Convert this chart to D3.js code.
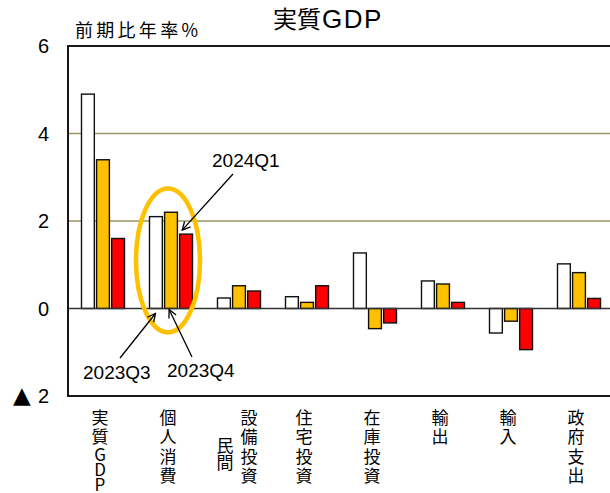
<!DOCTYPE html>
<html>
<head>
<meta charset="utf-8">
<script src="https://cdn.jsdelivr.net/npm/d3@7"></script>
<style>
  body { margin: 0; background: #fff; }
  text { font-family: "Noto Sans CJK JP", sans-serif; fill: #000; }
  .num { font-family: "Liberation Sans", Arial, sans-serif; }
</style>
</head>
<body>
<svg id="chart" width="610" height="493"></svg>
<script>
// data (前期比年率, %)
const categories = ["実質GDP", "個人消費", "民間設備投資", "住宅投資", "在庫投資", "輸出", "輸入", "政府支出"];
const labelColumns = [["実質GDP"], ["個人消費"], ["民間", "設備投資"], ["住宅投資"], ["在庫投資"], ["輸出"], ["輸入"], ["政府支出"]];
const quarters = ["2023Q3", "2023Q4", "2024Q1"];
const q2023Q3 = [4.9, 2.1, 0.24, 0.27, 1.27, 0.63, -0.56, 1.02];
const q2023Q4 = [3.4, 2.2, 0.52, 0.14, -0.46, 0.56, -0.29, 0.82];
const q2024Q1 = [1.6, 1.7, 0.40, 0.52, -0.33, 0.14, -0.94, 0.23];
const yTicks = [6, 4, 2, 0, -2];
const gridTicks = [4, 2];
const colors = ["#ffffff", "#ffc000", "#ff0000"];

const seriesValues = [q2023Q3, q2023Q4, q2024Q1];
const rows = [];
categories.forEach((c, i) => {
  quarters.forEach((q, j) => rows.push({ cat: c, q: q, v: seriesValues[j][i], color: colors[j] }));
});

const svg = d3.select("#chart");
const plotL = 68, plotR = 612, plotT = 46, plotB = 396;

const y = d3.scaleLinear().domain([-2, 6]).range([plotB, plotT]);
const x0 = d3.scaleBand().domain(categories).range([plotL, plotR]);
const x1 = d3.scaleBand().domain(quarters).range([13.5, 56.5]).paddingInner(0.15);

// gridlines
svg.append("g").selectAll("line")
  .data(gridTicks)
  .join("line")
  .attr("x1", plotL).attr("x2", plotR)
  .attr("y1", d => y(d)).attr("y2", d => y(d))
  .attr("stroke", "#9c9660")
  .attr("stroke-width", 1.3);

// bars
svg.append("g").selectAll("rect")
  .data(rows)
  .join("rect")
  .attr("x", d => x0(d.cat) + x1(d.q))
  .attr("width", x1.bandwidth())
  .attr("y", d => y(Math.max(0, d.v)))
  .attr("height", d => Math.abs(y(d.v) - y(0)))
  .attr("fill", d => d.color)
  .attr("stroke", "#111")
  .attr("stroke-width", 1.4);

// zero line
svg.append("line")
  .attr("x1", plotL).attr("x2", plotR)
  .attr("y1", y(0)).attr("y2", y(0))
  .attr("stroke", "#333")
  .attr("stroke-width", 1.6);

// plot frame
svg.append("rect")
  .attr("x", plotL).attr("y", plotT)
  .attr("width", plotR - plotL).attr("height", plotB - plotT)
  .attr("fill", "none")
  .attr("stroke", "#000")
  .attr("stroke-width", 1.8);

// y tick labels (negative shown with ▲)
const yLab = svg.append("g").selectAll("text")
  .data(yTicks)
  .join("text")
  .attr("class", "num")
  .attr("x", 49)
  .attr("y", d => y(d) + 7)
  .attr("text-anchor", "end")
  .style("font-size", "20px");
yLab.filter(d => d < 0).append("tspan")
  .style("font-family", "DejaVu Sans")
  .style("font-size", "23px")
  .text("▲ ");
yLab.append("tspan").text(d => Math.abs(d));

// category labels, one text per column, one tspan per char
labelColumns.forEach((cols, i) => {
  const cx = x0(categories[i]) + x0.bandwidth() / 2 - 2;
  const n = cols.length;
  cols.forEach((word, k) => {
    const colX = n === 1 ? cx : cx + (k === 0 ? -11 : 13);
    const chars = Array.from(word);
    const t = svg.append("text")
      .attr("text-anchor", "middle")
      .style("font-size", "17px");
    let yy = (n > 1 && k === 0) ? 446 : 417.5;
    chars.forEach((ch, m) => {
      const latin = /[A-Za-z]/.test(ch);
      if (m > 0) {
        const prevLatin = /[A-Za-z]/.test(chars[m - 1]);
        yy += latin ? (prevLatin ? 15 : 18) : (n > 1 && k === 0 ? 17 : 19.5);
      }
      t.append("tspan")
        .attr("x", colX)
        .attr("y", yy + 6)
        .text(ch);
    });
  });
});

// title and unit
const title = svg.append("text")
  .attr("x", 273).attr("y", 28);
title.append("tspan").style("font-size", "24px").text("実質");
title.append("tspan")
  .style("font-family", "Liberation Sans, Arial, sans-serif")
  .style("font-size", "26px")
  .style("letter-spacing", "1.5px")
  .attr("dx", 1)
  .text("GDP");

svg.append("text")
  .attr("x", 75).attr("y", 37)
  .style("font-size", "18px")
  .attr("textLength", 123)
  .text("前期比年率%");

// highlight ellipse round 個人消費
const focus = "個人消費";
svg.append("ellipse")
  .attr("cx", x0(focus) + x0.bandwidth() / 2 - 2)
  .attr("cy", y(1.1))
  .attr("rx", 32)
  .attr("ry", 72)
  .attr("fill", "none")
  .attr("stroke", "#ffc000")
  .attr("stroke-width", 4.5);

// arrows + quarter labels
svg.append("defs").append("marker")
  .attr("id", "arrow")
  .attr("viewBox", "0 0 10 10")
  .attr("refX", 9).attr("refY", 5)
  .attr("markerWidth", 10).attr("markerHeight", 10)
  .attr("markerUnits", "userSpaceOnUse")
  .attr("orient", "auto")
  .append("path")
  .attr("d", "M1,1 L9,5 L1,9")
  .attr("fill", "none")
  .attr("stroke", "#000")
  .attr("stroke-width", 1.3);

const focusIdx = categories.indexOf(focus);
const annotations = [
  { q: "2024Q1", tx: 212, ty: 167, fx: 233, fy: 174, tipX: 2.5, tipV: q2024Q1[focusIdx], tipDy: -4 },
  { q: "2023Q3", tx: 83, ty: 379, fx: 120, fy: 358, tipX: 6, tipV: 0, tipDy: 5 },
  { q: "2023Q4", tx: 167, ty: 377, fx: 192, fy: 357, tipX: 4.5, tipV: 0, tipDy: 1 }
];

annotations.forEach(a => {
  const tx = x0(focus) + x1(a.q) + a.tipX;
  const ty = y(a.tipV) + a.tipDy;
  svg.append("line")
    .attr("x1", a.fx).attr("y1", a.fy)
    .attr("x2", tx).attr("y2", ty)
    .attr("stroke", "#000")
    .attr("stroke-width", 1.3)
    .attr("marker-end", "url(#arrow)");
  svg.append("text")
    .attr("class", "num")
    .attr("x", a.tx).attr("y", a.ty)
    .style("font-size", "19px")
    .text(a.q);
});
</script>
</body>
</html>
